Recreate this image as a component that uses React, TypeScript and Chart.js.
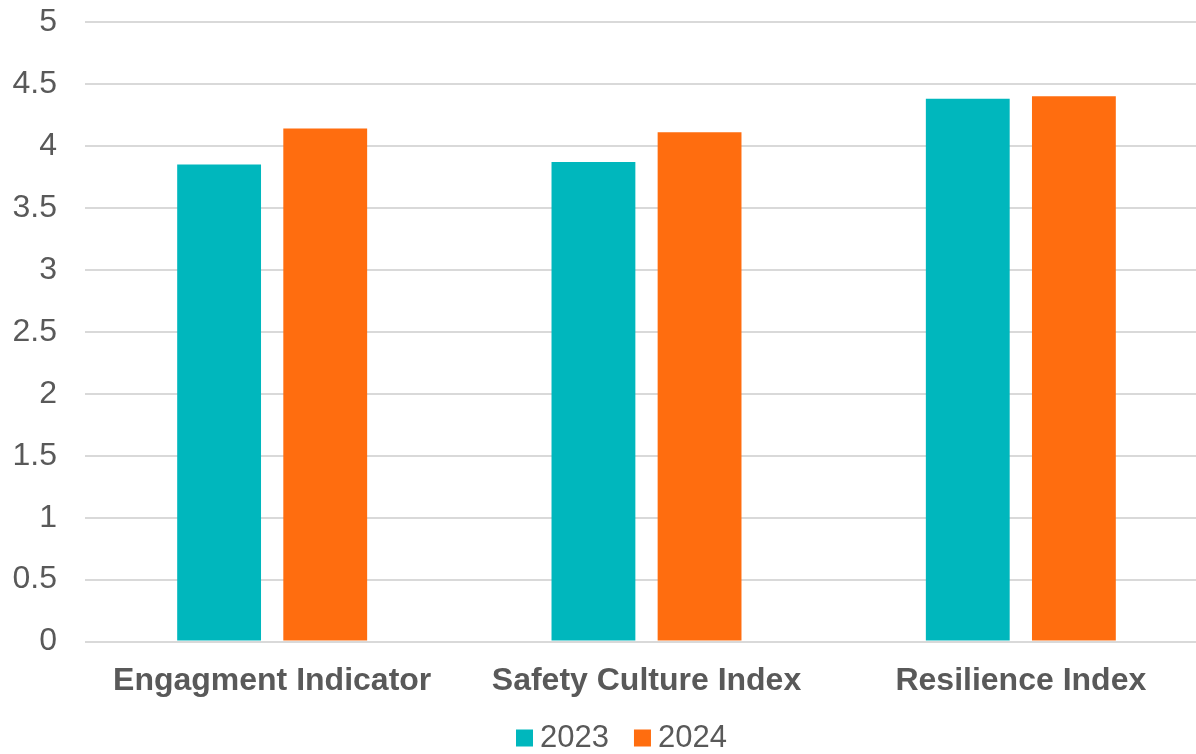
import React, { useEffect, useRef } from "react";
import { Chart, registerables } from "chart.js";

Chart.register(...registerables);

const categories = ["Engagment Indicator", "Safety Culture Index", "Resilience Index"];
const seriesNames = ["2023", "2024"];
const values2023 = [3.85, 3.87, 4.38];
const values2024 = [4.14, 4.11, 4.4];
const seriesColors = ["#00B7BD", "#FF6D0F"];

const FONT = "'Liberation Sans', Arial, sans-serif";
const TEXT = "#595959";

// Compact legend row under the axis: square swatch, small gap, then the series name.
const bottomLegend = {
  id: "bottomLegend",
  afterDraw(chart: any) {
    const { ctx } = chart;
    const box = 17;
    const gap = 7;
    const itemGap = 25;
    const y = 738;
    let x = 516;
    ctx.save();
    ctx.font = `31px ${FONT}`;
    ctx.textBaseline = "middle";
    ctx.textAlign = "left";
    chart.data.datasets.forEach((ds: any) => {
      ctx.fillStyle = ds.backgroundColor;
      ctx.fillRect(x, y - box / 2, box, box);
      x += box + gap;
      ctx.fillStyle = TEXT;
      ctx.fillText(ds.label, x, y);
      x += ctx.measureText(ds.label).width + itemGap;
    });
    ctx.restore();
  },
};

export default function App() {
  const canvasRef = useRef<HTMLCanvasElement | null>(null);

  useEffect(() => {
    const canvas = canvasRef.current;
    if (!canvas) return;
    const chart = new Chart(canvas, {
      type: "bar",
      data: {
        labels: categories,
        datasets: [
          {
            label: seriesNames[0],
            data: values2023,
            backgroundColor: seriesColors[0],
            borderWidth: 0,
          },
          {
            label: seriesNames[1],
            data: values2024,
            backgroundColor: seriesColors[1],
            borderWidth: 0,
          },
        ],
      },
      plugins: [bottomLegend],
      options: {
        responsive: false,
        animation: false,
        devicePixelRatio: 1,
        datasets: {
          bar: {
            categoryPercentage: 0.567,
            barPercentage: 0.79,
          },
        },
        layout: { padding: { top: 22, bottom: 34, left: 0, right: 0 } },
        plugins: {
          tooltip: { enabled: false },
          legend: { display: false },
        },
        scales: {
          x: {
            grid: { display: false, drawTicks: false },
            border: { display: false },
            ticks: {
              color: TEXT,
              font: { family: FONT, size: 32, weight: "bold" },
              padding: 20,
              maxRotation: 0,
            },
          },
          y: {
            min: 0,
            max: 5,
            afterFit: (scale: any) => {
              scale.width = 85;
              scale.paddingTop = 0;
              scale.paddingBottom = 0;
            },
            grid: { color: "#D9D9D9", lineWidth: 2, drawTicks: false },
            border: { display: false },
            ticks: {
              stepSize: 0.5,
              color: TEXT,
              font: { family: FONT, size: 32 },
              padding: 28,
              callback: (v: any) => String(Number(v)),
            },
          },
        },
      },
    });
    return () => chart.destroy();
  }, []);

  return (
    <div
      style={{
        position: "fixed",
        left: 0,
        top: 0,
        width: 1196,
        height: 754,
        overflow: "hidden",
        background: "#fff",
      }}
    >
      <canvas ref={canvasRef} width={1208} height={754} style={{ display: "block" }} />
    </div>
  );
}
